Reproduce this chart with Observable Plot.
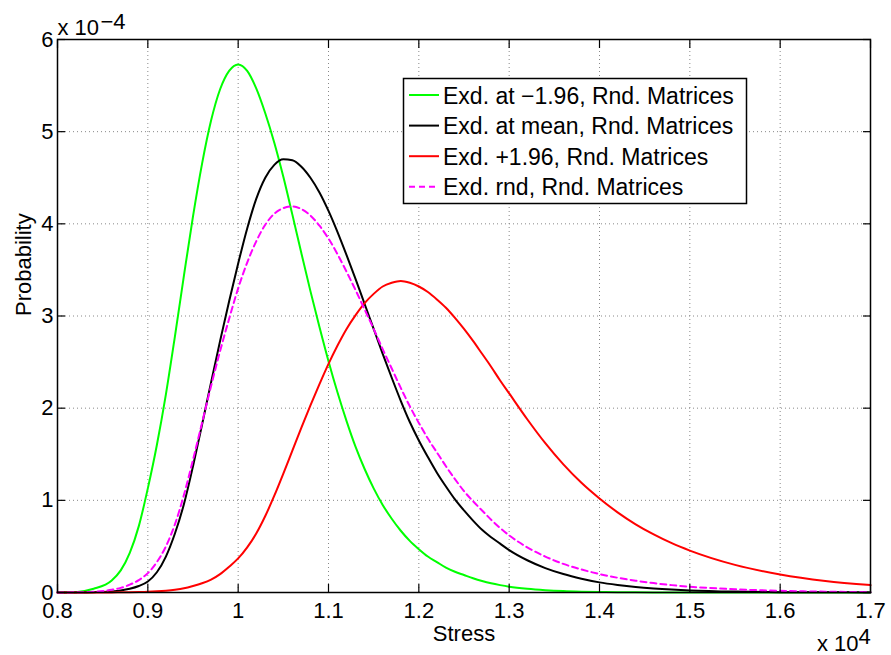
<!DOCTYPE html>
<html><head><meta charset="utf-8">
<script src="https://cdn.jsdelivr.net/npm/d3@7"></script>
<script src="https://cdn.jsdelivr.net/npm/@observablehq/plot@0.6"></script>
<style>
body{margin:0;background:#fff;}
#chart{position:relative;width:891px;height:655px;background:#fff;}
</style></head><body><div id="chart"></div>
<script>
// Stress (x 10^4) sample grid
const stress = [0.80,0.82,0.84,0.86,0.87,0.88,0.89,0.90,0.91,0.92,0.93,0.94,0.95,0.96,0.97,0.98,0.99,1.00,1.01,1.02,1.03,1.04,1.05,1.06,1.07,1.08,1.09,1.10,1.11,1.12,1.13,1.14,1.15,1.16,1.17,1.18,1.19,1.20,1.21,1.22,1.23,1.24,1.25,1.26,1.27,1.28,1.29,1.30,1.32,1.34,1.36,1.38,1.40,1.42,1.44,1.46,1.48,1.50,1.55,1.60,1.65,1.70];
// Probability (x 10^-4)
const expAtMinus = [0,0.004,0.04,0.13,0.24,0.43,0.72,1.13,1.6,2.15,2.78,3.44,4.08,4.65,5.12,5.46,5.66,5.73,5.66,5.47,5.2,4.88,4.51,4.1,3.68,3.27,2.88,2.51,2.17,1.86,1.58,1.34,1.13,0.95,0.8,0.67,0.56,0.47,0.39,0.33,0.27,0.225,0.19,0.155,0.125,0.1,0.08,0.063,0.04,0.025,0.015,0.009,0.005,0.003,0.002,0.001,0,0,0,0,0,0];
const expAtMean = [0,0.001,0.004,0.012,0.022,0.04,0.07,0.12,0.22,0.39,0.64,0.96,1.37,1.82,2.28,2.73,3.16,3.57,3.95,4.27,4.5,4.64,4.7,4.69,4.62,4.5,4.34,4.14,3.91,3.66,3.4,3.13,2.86,2.59,2.33,2.08,1.85,1.65,1.47,1.3,1.15,1.01,0.89,0.78,0.68,0.6,0.53,0.46,0.35,0.265,0.2,0.15,0.11,0.082,0.06,0.044,0.032,0.023,0.01,0.004,0.002,0.001];
const expAtPlus = [0,0,0,0.001,0.002,0.003,0.005,0.008,0.013,0.02,0.03,0.045,0.07,0.1,0.14,0.2,0.28,0.37,0.49,0.64,0.83,1.05,1.29,1.54,1.79,2.03,2.26,2.48,2.68,2.86,3.01,3.14,3.24,3.32,3.36,3.38,3.36,3.32,3.26,3.18,3.09,2.98,2.86,2.73,2.59,2.45,2.3,2.16,1.88,1.62,1.39,1.19,1.02,0.87,0.74,0.63,0.535,0.455,0.3,0.195,0.125,0.08];
const expRnd = [0,0.002,0.008,0.03,0.05,0.085,0.135,0.21,0.33,0.5,0.74,1.06,1.44,1.84,2.24,2.62,2.97,3.3,3.58,3.81,3.99,4.11,4.17,4.19,4.16,4.09,3.98,3.84,3.67,3.48,3.28,3.07,2.86,2.64,2.43,2.22,2.02,1.84,1.67,1.52,1.37,1.23,1.1,0.99,0.89,0.79,0.7,0.62,0.49,0.39,0.31,0.25,0.2,0.16,0.128,0.102,0.08,0.063,0.035,0.018,0.009,0.004];

const seriesNames = ["Exd. at \u22121.96, Rnd. Matrices","Exd. at mean, Rnd. Matrices","Exd. +1.96, Rnd. Matrices","Exd. rnd, Rnd. Matrices"];
const seriesValues = [expAtMinus, expAtMean, expAtPlus, expRnd];
const seriesColors = ["#00ff00","#000000","#ff0000","#ff00ff"];
const seriesDash = [null, null, null, "6,4"];

const xTicks = [0.8,0.9,1.0,1.1,1.2,1.3,1.4,1.5,1.6,1.7];
const xTickLabels = ["0.8","0.9","1","1.1","1.2","1.3","1.4","1.5","1.6","1.7"];
const yTicks = [0,1,2,3,4,5,6];
const yTickLabels = ["0","1","2","3","4","5","6"];

const rows = [];
seriesNames.forEach((name, s) => seriesValues[s].forEach((v, i) => rows.push({stress: stress[i], prob: v, series: name})));

const font = "'Liberation Sans', Arial, Helvetica, sans-serif";
const noLabel = () => "";

const lineMarks = seriesNames.map((name, s) => Plot.line(rows.filter(r => r.series === name), {
  x: "stress", y: "prob", stroke: seriesColors[s], strokeWidth: 2,
  strokeDasharray: seriesDash[s] || undefined, curve: "monotone-x"
}));

const chart = Plot.plot({
  width: 891, height: 655,
  marginLeft: 57, marginRight: 21, marginTop: 39, marginBottom: 63,
  style: {fontFamily: font, fontSize: "22px", color: "#000", background: "#fff", overflow: "visible"},
  x: {domain: [0.8, 1.7]},
  y: {domain: [0, 6]},
  marks: [
    Plot.gridX(xTicks, {stroke: "#888", strokeOpacity: 1, strokeWidth: 1, strokeDasharray: "1,3"}),
    Plot.gridY(yTicks, {stroke: "#888", strokeOpacity: 1, strokeWidth: 1, strokeDasharray: "1,3"}),
    ...lineMarks,
    Plot.frame({stroke: "#000", strokeWidth: 1.5}),
    Plot.axisX({anchor: "bottom", ticks: xTicks, tickSize: 8, dy: -8, tickFormat: noLabel, label: null, strokeWidth: 1.2}),
    Plot.axisX({anchor: "top", ticks: xTicks, tickSize: 8, dy: 8, tickFormat: noLabel, label: null, strokeWidth: 1.2}),
    Plot.axisY({anchor: "left", ticks: yTicks, tickSize: 8, dx: 8, tickFormat: noLabel, label: null, strokeWidth: 1.2}),
    Plot.axisY({anchor: "right", ticks: yTicks, tickSize: 8, dx: -8, tickFormat: noLabel, label: null, strokeWidth: 1.2}),
    Plot.axisX({anchor: "bottom", ticks: xTicks, tickSize: 0, tickPadding: 10, tickFormat: d => xTickLabels[xTicks.indexOf(d)], label: null, fontSize: 22}),
    Plot.axisY({anchor: "left", ticks: yTicks, tickSize: 0, tickPadding: 4, tickFormat: d => yTickLabels[yTicks.indexOf(d)], label: null, fontSize: 22}),
    Plot.text(["Stress"], {text: d => d, frameAnchor: "bottom", lineAnchor: "bottom", dy: 48, fontSize: 22}),
    Plot.text(["Probability"], {text: d => d, frameAnchor: "left", lineAnchor: "bottom", rotate: -90, dx: -27, fontSize: 22}),
    Plot.text(["x 10"], {text: d => d, frameAnchor: "top-left", textAnchor: "start", lineAnchor: "bottom", dy: -5, fontSize: 22}),
    Plot.text(["\u22124"], {text: d => d, frameAnchor: "top-left", textAnchor: "start", lineAnchor: "bottom", dx: 43, dy: -11, fontSize: 22}),
    Plot.text(["x 10"], {text: d => d, frameAnchor: "bottom-right", textAnchor: "end", lineAnchor: "bottom", dx: -12, dy: 58, fontSize: 22}),
    Plot.text(["4"], {text: d => d, frameAnchor: "bottom-right", textAnchor: "start", lineAnchor: "bottom", dx: -12, dy: 51, fontSize: 22})
  ]
});

// Legend box
const svg = d3.select(chart);
const lg = svg.append("g").attr("font-family", font).attr("font-size", 23).attr("text-anchor", "start");
lg.append("rect").attr("x", 403.5).attr("y", 78.5).attr("width", 343).attr("height", 125)
  .attr("fill", "#fff").attr("stroke", "#000").attr("stroke-width", 1.5);
seriesNames.forEach((name, i) => {
  const y = 95 + i * 30.6;
  lg.append("line").attr("x1", 409).attr("x2", 439).attr("y1", y).attr("y2", y)
    .attr("stroke", seriesColors[i]).attr("stroke-width", 2)
    .attr("stroke-dasharray", seriesDash[i]);
  lg.append("text").attr("x", 443).attr("y", y + 8.5).attr("fill", "#000").attr("text-anchor", "start").text(name);
});

document.getElementById("chart").appendChild(chart);
</script>
</body></html>
